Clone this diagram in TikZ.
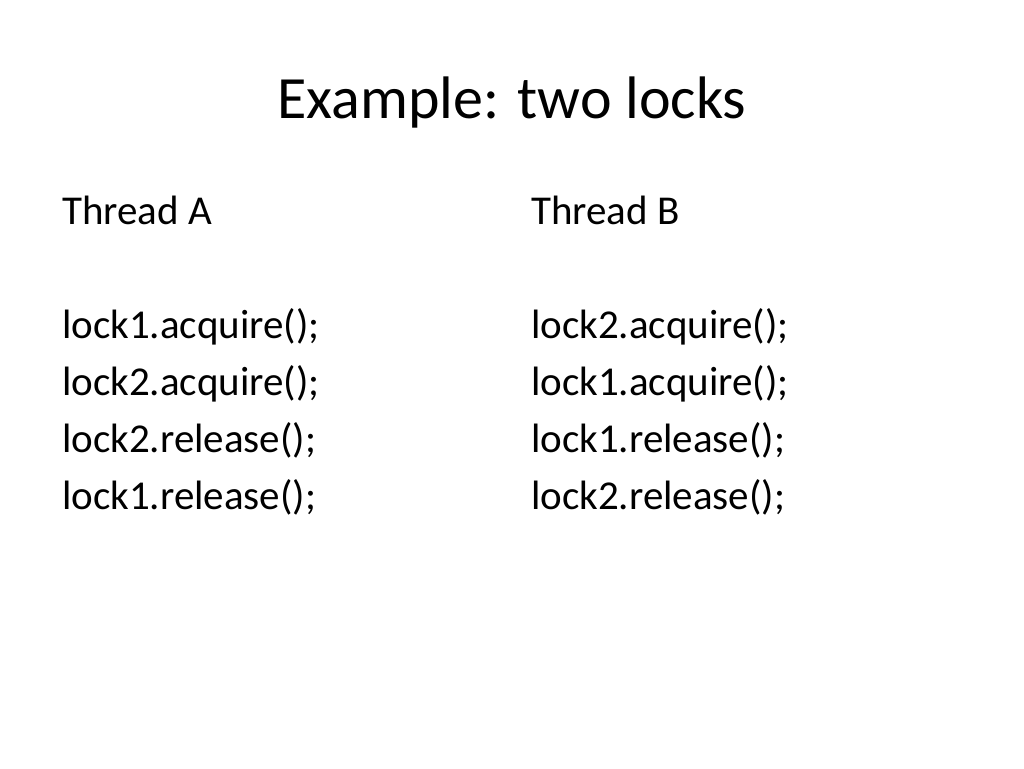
\documentclass[tikz,border=0pt]{standalone}
\usepackage{fontspec}
\setmainfont{Carlito}
\usetikzlibrary{positioning}

\begin{document}
\begin{tikzpicture}[x=1pt,y=-1pt,
    code/.style={anchor=base west,inner sep=0pt,font=\fontsize{41}{49}\selectfont}]
    \useasboundingbox (0,0) rectangle (1024,768);

    \node[anchor=base,inner sep=0pt,font=\fontsize{60}{72}\selectfont] (title) at (512,118) {Example: two locks};

    \node[code] (thA) at (62,224) {Thread A};
    \node[code] (thB) at (531,224) {Thread B};

    \foreach \i/\a/\b in {0/lock1.acquire();/lock2.acquire();,
                          1/lock2.acquire();/lock1.acquire();,
                          2/lock2.release();/lock1.release();,
                          3/lock1.release();/lock2.release();} {
        \node[code] (a\i) at (62,338+57*\i) {\a};
        \node[code] (b\i) at (531,338+57*\i) {\b};
    }
\end{tikzpicture}
\end{document}
